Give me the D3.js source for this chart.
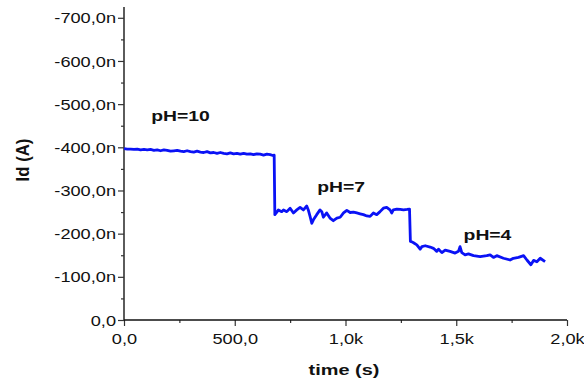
<!DOCTYPE html>
<html>
<head>
<meta charset="utf-8">
<script src="https://cdn.jsdelivr.net/npm/d3@7"></script>
<style>
  html, body { margin: 0; padding: 0; background: #fff; }
  svg { display: block; font-family: Arial, "Liberation Sans", sans-serif; }
</style>
</head>
<body>
<svg id="chart" width="584" height="380"></svg>
<script>
// Drain current Id (nA) recorded over time (s), stepped through three pH buffers
const timeS = [
  0, 15, 30, 45, 60, 75, 90, 105, 120, 135, 150, 165, 180, 195, 210, 225, 240, 255, 270, 285,
  300, 315, 330, 345, 360, 375, 390, 405, 420, 435, 450, 465, 480, 495, 510, 525, 540, 555, 570, 585,
  600, 615, 630, 645, 660, 672, 678,
  681, 690, 697, 712, 720, 735, 750, 765, 780, 795, 810, 825, 832, 840, 848, 855, 870, 885, 893, 900,
  915, 930, 945, 961, 976, 991, 1006, 1021, 1036, 1051, 1066, 1081, 1096, 1111, 1126, 1141, 1156, 1171,
  1186, 1201, 1209, 1216, 1232, 1247, 1262, 1278, 1289,
  1293, 1300, 1307, 1322, 1337, 1345, 1360, 1382, 1397, 1412, 1420, 1435, 1450, 1472, 1495, 1510, 1517,
  1525, 1540, 1555, 1578, 1608, 1638, 1653, 1668, 1683, 1713, 1743, 1758, 1781, 1804, 1819, 1837, 1849,
  1864, 1879, 1901
];
const currentNA = [
  -397, -396, -396, -395, -396, -394, -395, -394, -395, -393, -394, -392, -394, -393, -391, -392, -393, -391, -390, -392,
  -390, -389, -391, -389, -388, -390, -387, -388, -386, -388, -386, -385, -387, -385, -386, -384, -386, -384, -385, -383,
  -385, -384, -382, -384, -383, -381, -382,
  -244, -250, -255, -251, -255, -251, -259, -248, -255, -261, -255, -264, -255, -240, -224, -232, -244, -255, -251, -238,
  -248, -236, -230, -236, -238, -248, -254, -249, -250, -248, -246, -244, -241, -240, -248, -244, -251, -259,
  -261, -255, -248, -255, -257, -256, -255, -256, -257,
  -182, -181, -179, -174, -164, -170, -172, -169, -166, -159, -164, -156, -162, -159, -155, -159, -170,
  -156, -151, -153, -149, -147, -149, -151, -145, -149, -143, -139, -143, -145, -149, -139, -128, -138,
  -135, -143, -135
];

const yTicks = [0, -100, -200, -300, -400, -500, -600, -700];
const yTickLabels = ["0,0", "-100,0n", "-200,0n", "-300,0n", "-400,0n", "-500,0n", "-600,0n", "-700,0n"];
const xTicks = [0, 500, 1000, 1500, 2000];
const xTickLabels = ["0,0", "500,0", "1,0k", "1,5k", "2,0k"];

const phLabels = ["pH=10", "pH=7", "pH=4"];
const phAnchorT = [255, 980, 1641];
const phAnchorI = [-460, -297, -185];

const svg = d3.select("#chart");
const plotLeft = 124, plotRight = 567, plotTop = 7, plotBottom = 320;

const x = d3.scaleLinear().domain([0, 2000]).range([plotLeft, plotRight]);
const y = d3.scaleLinear().domain([0, -725]).range([plotBottom, plotTop]);

const textScale = 1.3;

// y axis: major and minor ticks
const yAxisG = svg.append("g").attr("transform", `translate(${plotLeft},0)`);
yAxisG.append("g").call(d3.axisLeft(y).tickValues(d3.range(-50, -725, -100)).tickSize(3).tickFormat(""));
const yMajor = yAxisG.append("g").call(d3.axisLeft(y).tickValues(yTicks).tickSize(6)
  .tickFormat((d, i) => yTickLabels[i]));
yAxisG.selectAll(".domain").attr("stroke", "none");
yAxisG.append("line").attr("x1", 0).attr("x2", 0).attr("y1", plotTop).attr("y2", plotBottom)
  .attr("stroke", "#333").attr("stroke-width", 1.6);

// x axis: major and minor ticks
const xAxisG = svg.append("g").attr("transform", `translate(0,${plotBottom})`);
xAxisG.append("g").call(d3.axisBottom(x).tickValues(d3.range(250, 2000, 500)).tickSize(3).tickFormat(""));
const xMajor = xAxisG.append("g").call(d3.axisBottom(x).tickValues(xTicks).tickSize(6)
  .tickFormat((d, i) => xTickLabels[i]));
xAxisG.selectAll(".domain").attr("stroke", "none");
xAxisG.append("line").attr("x1", plotLeft).attr("x2", plotRight).attr("y1", 0).attr("y2", 0)
  .attr("stroke", "#111").attr("stroke-width", 1.6);

svg.selectAll(".tick line").attr("stroke", "#333").attr("stroke-width", 1.2);
svg.selectAll(".tick text")
  .attr("font-size", 14)
  .attr("font-family", "Arial, 'Liberation Sans', sans-serif")
  .attr("fill", "#111");

// widen tick labels horizontally
yMajor.selectAll(".tick text")
  .attr("x", -8 / textScale).attr("dy", "0.36em").attr("transform", `scale(${textScale},1)`);
xMajor.selectAll(".tick text")
  .attr("y", 24).attr("dy", "0").attr("transform", `scale(${textScale},1)`);

// data line
const line = d3.line().x((d, i) => x(timeS[i])).y(d => y(d));
svg.append("path")
  .datum(currentNA)
  .attr("d", line)
  .attr("fill", "none")
  .attr("stroke", "#0a12f5")
  .attr("stroke-width", 2.8)
  .attr("stroke-linejoin", "round");

// pH annotations
phLabels.forEach((lab, i) => {
  svg.append("g")
    .attr("transform", `translate(${x(phAnchorT[i])},${y(phAnchorI[i])}) scale(1.38,1)`)
    .append("text")
    .attr("text-anchor", "middle")
    .attr("font-size", 14)
    .attr("font-weight", "bold")
    .attr("fill", "#111")
    .text(lab);
});

// axis titles
svg.append("g")
  .attr("transform", `translate(344,375) scale(1.33,1)`)
  .append("text")
  .attr("text-anchor", "middle")
  .attr("font-size", 15)
  .attr("font-weight", "bold")
  .attr("fill", "#111")
  .text("time (s)");

svg.append("g")
  .attr("transform", `translate(29,160) rotate(-90) scale(1.2,1.25)`)
  .append("text")
  .attr("text-anchor", "middle")
  .attr("font-size", 14)
  .attr("font-weight", "bold")
  .attr("fill", "#111")
  .text("Id (A)");
</script>
</body>
</html>
